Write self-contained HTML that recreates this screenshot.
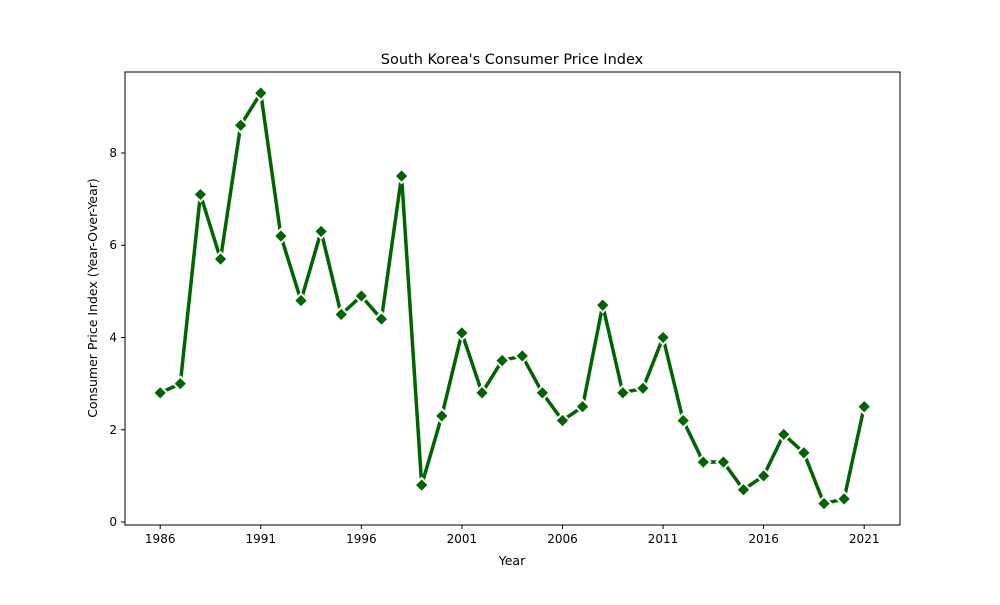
<!DOCTYPE html>
<html><head><meta charset="utf-8"><style>
body{margin:0;background:#fff;}
svg text{font-family:"DejaVu Sans","Liberation Sans",sans-serif;fill:#000;}
</style></head><body>
<svg id="chart" width="1000" height="600" xmlns="http://www.w3.org/2000/svg">
<rect width="1000" height="600" fill="#fff"/>
<text x="512" y="64" font-size="14.5" text-anchor="middle">South Korea's Consumer Price Index</text>
<g id="plot"></g>
<rect x="125" y="72" width="775" height="453" fill="none" stroke="#000" stroke-width="1"/>
<text x="512" y="565" font-size="12.5" text-anchor="middle">Year</text>
<text transform="translate(97,298) rotate(-90)" font-size="12.5" text-anchor="middle">Consumer Price Index (Year-Over-Year)</text>
</svg>
<script>
const years=[1986,1987,1988,1989,1990,1991,1992,1993,1994,1995,1996,1997,1998,1999,2000,2001,2002,2003,2004,2005,2006,2007,2008,2009,2010,2011,2012,2013,2014,2015,2016,2017,2018,2019,2020,2021];
const cpi=[2.8,3.0,7.1,5.7,8.6,9.3,6.2,4.8,6.3,4.5,4.9,4.4,7.5,0.8,2.3,4.1,2.8,3.5,3.6,2.8,2.2,2.5,4.7,2.8,2.9,4.0,2.2,1.3,1.3,0.7,1.0,1.9,1.5,0.4,0.5,2.5];
const xTicks=[1986,1991,1996,2001,2006,2011,2016,2021];
const yTicks=[0,2,4,6,8];
const NS="http://www.w3.org/2000/svg";
const L=125,R=900,T=72,B=525;
const xMin=1984.25,xMax=2022.78,yMin=-0.065,yMax=9.756;
const xs=v=>L+(v-xMin)/(xMax-xMin)*(R-L);
const ys=v=>B-(v-yMin)/(yMax-yMin)*(B-T);
const g=document.getElementById('plot');
function mk(t,a){const e=document.createElementNS(NS,t);for(const k in a)e.setAttribute(k,a[k]);g.appendChild(e);return e;}
xTicks.forEach(t=>{
 const l=mk('line',{x1:xs(t),x2:xs(t),y1:B,y2:B+4,stroke:'#000'});
 
 
 const tx=mk('text',{x:xs(t),y:B+18,'font-size':12,'text-anchor':'middle'});tx.textContent=t;
 
 
});
yTicks.forEach(t=>{
 const l=mk('line',{x1:L-4,x2:L,y1:ys(t),y2:ys(t),stroke:'#000'});
 
 
 const tx=mk('text',{x:L-8,y:ys(t)+4,'font-size':12,'text-anchor':'end'});tx.textContent=t;
 
 
});
const pts=years.map((y,i)=>xs(y)+','+ys(cpi[i])).join(' ');
const line=mk('polyline',{points:pts,fill:'none',stroke:'#006400','stroke-width':3.5,'stroke-linejoin':'round'});


years.forEach((y,i)=>{
 const cx=xs(y),cy=ys(cpi[i]),r=7;
 const m=mk('polygon',{points:`${cx},${cy-r} ${cx+r},${cy} ${cx},${cy+r} ${cx-r},${cy}`,fill:'#006400',stroke:'#fff','stroke-width':2});
 
 
});
</script>
</body></html>
